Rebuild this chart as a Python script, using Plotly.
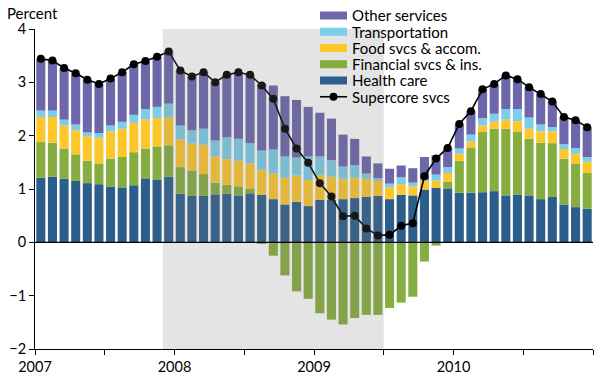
import plotly.graph_objects as go

months = list(range(48))  # Jan 2007 .. Dec 2010
health = [1.21,1.23,1.19,1.15,1.11,1.09,1.04,1.03,1.07,1.20,1.18,1.23,
          0.91,0.87,0.87,0.90,0.91,0.88,0.92,0.89,0.81,0.71,0.76,0.68,
          0.80,0.80,0.81,0.83,0.85,0.87,0.81,0.89,0.88,0.99,1.02,1.00,
          0.93,0.93,0.94,0.96,0.88,0.89,0.88,0.81,0.86,0.71,0.66,0.63]
financial = [0.67,0.64,0.57,0.50,0.42,0.39,0.53,0.57,0.62,0.56,0.62,0.59,
             0.50,0.48,0.41,0.22,0.17,0.17,0.08,-0.03,-0.25,-0.62,-0.92,-1.06,
             -1.33,-1.45,-1.54,-1.42,-1.36,-1.36,-1.23,-1.13,-1.02,-0.36,-0.06,0.14,
             0.60,0.85,1.13,1.17,1.25,1.19,1.06,1.06,1.00,0.86,0.82,0.67]
food = [0.47,0.48,0.43,0.45,0.46,0.48,0.51,0.53,0.55,0.54,0.53,0.52,
        0.52,0.50,0.55,0.49,0.48,0.48,0.48,0.47,0.48,0.50,0.49,0.49,
        0.46,0.43,0.38,0.38,0.34,0.28,0.22,0.20,0.17,0.17,0.14,0.16,
        0.13,0.11,0.12,0.13,0.17,0.19,0.19,0.21,0.22,0.18,0.18,0.21]
transport = [0.12,0.12,0.11,0.11,0.07,0.09,0.11,0.13,0.15,0.20,0.21,0.26,
             0.26,0.25,0.30,0.30,0.41,0.41,0.38,0.36,0.45,0.40,0.34,0.44,
             0.35,0.31,0.23,0.24,0.10,0.05,0.07,0.13,0.07,0.02,0.11,0.11,
             0.10,0.13,0.14,0.15,0.20,0.23,0.21,0.13,0.08,0.09,0.11,0.09]
other = [0.97,0.94,0.97,0.96,0.99,0.92,0.88,0.93,0.95,0.90,0.94,0.98,
         1.03,1.01,1.06,1.09,1.17,1.25,1.28,1.25,1.20,1.13,1.08,0.93,
         0.82,0.78,0.60,0.49,0.32,0.28,0.28,0.22,0.27,0.42,0.36,0.36,
         0.46,0.44,0.54,0.56,0.63,0.56,0.57,0.57,0.48,0.51,0.52,0.56]
supercore = [3.44,3.41,3.27,3.17,3.05,2.97,3.07,3.19,3.34,3.40,3.48,3.58,
             3.22,3.11,3.19,3.00,3.14,3.19,3.14,2.94,2.69,2.13,1.76,1.49,
             1.11,0.86,0.49,0.50,0.26,0.13,0.14,0.31,0.36,1.24,1.57,1.77,
             2.22,2.46,2.87,2.97,3.13,3.06,2.91,2.78,2.64,2.35,2.29,2.16]

year_ticks = [0, 6, 12, 18, 24, 30, 36, 42, 48]
year_labels = ["2007", "", "2008", "", "2009", "", "2010", "", ""]
recession = [11, 30]  # Dec 2007 .. Jun 2009 (month index)

series = [
    ("Health care", health, "#2c5e8c"),
    ("Financial svcs & ins.", financial, "#86ad3f"),
    ("Food svcs & accom.", food, "#fdc72c"),
    ("Transportation", transport, "#7ecde8"),
    ("Other services", other, "#6c66aa"),
]
legend_order = ["Other services", "Transportation", "Food svcs & accom.",
                "Financial svcs & ins.", "Health care", "Supercore svcs"]

W, H = 600, 380
ML, MR, MT, MB = 35, 7, 29, 31
PW, PH = W - ML - MR, H - MT - MB

def px_x(p):
    return (p - ML) / PW

def px_y(p):
    return (H - MB - p) / PH

xc = [m + 0.5 for m in months]
fig = go.Figure()
colors = {}
for name, vals, col in series:
    colors[name] = col
    fig.add_trace(go.Bar(x=xc, y=vals, name=name, marker=dict(color=col, line=dict(width=0)),
                         width=0.78, showlegend=False))

fig.add_trace(go.Scatter(x=xc, y=supercore, mode="lines+markers", name="Supercore svcs",
                         line=dict(color="black", width=1.6),
                         marker=dict(color="black", size=8), showlegend=False))

fig.add_shape(type="rect", xref="x", yref="y", x0=recession[0], x1=recession[1], y0=-2, y1=4,
              fillcolor="rgba(120,120,120,0.2)", line=dict(width=0), layer="above")
fig.add_shape(type="line", xref="x", yref="y", x0=0, x1=48, y0=0, y1=0,
              line=dict(color="black", width=1.2), layer="above")

# legend (drawn as shapes + text to match the compact row spacing)
row0, step = 15.5, 16.25
for i, name in enumerate(legend_order):
    yc = row0 + i * step
    if name == "Supercore svcs":
        fig.add_shape(type="line", xref="paper", yref="paper",
                      x0=px_x(320), x1=px_x(347), y0=px_y(yc), y1=px_y(yc),
                      line=dict(color="black", width=1.6), layer="above")
        fig.add_shape(type="circle", xref="paper", yref="paper",
                      x0=px_x(329.5), x1=px_x(337.5), y0=px_y(yc + 4), y1=px_y(yc - 4),
                      fillcolor="black", line=dict(width=0), layer="above")
    else:
        fig.add_shape(type="rect", xref="paper", yref="paper",
                      x0=px_x(320), x1=px_x(347), y0=px_y(yc + 4), y1=px_y(yc - 4),
                      fillcolor=colors[name], line=dict(width=0), layer="above")
    fig.add_annotation(text=name, xref="paper", yref="paper", x=px_x(350), y=px_y(yc),
                       xanchor="left", yanchor="middle", showarrow=False,
                       font=dict(size=15, color="black"))

fig.add_annotation(text="Percent", xref="paper", yref="paper", x=px_x(5), y=px_y(13),
                   xanchor="left", yanchor="middle", showarrow=False,
                   font=dict(size=15, color="black"))

fig.update_layout(
    width=W, height=H,
    margin=dict(l=ML, r=MR, t=MT, b=MB, autoexpand=False),
    barmode="relative",
    showlegend=False,
    plot_bgcolor="white", paper_bgcolor="white",
    font=dict(family="Lato, sans-serif", size=14.5, color="black"),
    xaxis=dict(range=[0, 48], tickvals=year_ticks, ticktext=year_labels,
               showgrid=False, zeroline=False, showline=True, linecolor="black",
               ticks="outside", ticklen=5, tickcolor="black", automargin=False),
    yaxis=dict(range=[-2, 4], tickvals=[-2, -1, 0, 1, 2, 3, 4], showgrid=False,
               zeroline=False, showline=True, linecolor="black",
               ticks="outside", ticklen=5, tickcolor="black", automargin=False),
)

fig.write_html("out.html", config={"displayModeBar": False},
               post_script="document.body.style.margin='0';")
